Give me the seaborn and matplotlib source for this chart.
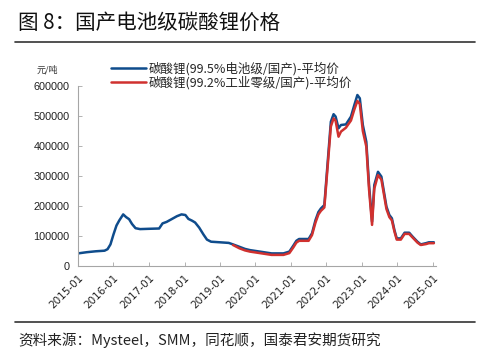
import matplotlib
matplotlib.use("Agg")
import matplotlib.pyplot as plt
from matplotlib.lines import Line2D
import pandas as pd
import seaborn as sns

# ---------------- data ----------------
battery_dates = [
    "2015-01-01", "2015-04-01", "2015-07-01", "2015-10-01", "2015-11-01", "2015-12-01",
    "2016-01-01", "2016-02-01", "2016-03-01", "2016-04-10", "2016-05-10", "2016-06-10",
    "2016-07-10", "2016-08-15", "2016-10-01", "2017-01-01", "2017-04-15", "2017-05-20",
    "2017-07-01", "2017-08-15", "2017-10-15", "2017-12-01", "2018-01-10", "2018-02-10",
    "2018-03-20", "2018-04-20", "2018-06-01", "2018-07-15", "2018-08-20", "2018-10-01",
    "2019-01-01", "2019-04-01", "2019-05-15", "2019-07-20", "2019-09-15", "2019-11-05",
    "2020-02-15", "2020-06-15", "2020-10-15", "2020-12-15", "2021-01-25", "2021-02-25",
    "2021-03-25", "2021-07-01", "2021-08-05", "2021-09-10", "2021-10-10", "2021-11-05",
    "2021-12-10", "2022-01-15", "2022-02-15", "2022-03-15", "2022-04-05", "2022-05-05",
    "2022-05-30", "2022-07-20", "2022-09-10", "2022-10-15", "2022-11-15", "2022-12-10",
    "2023-01-10", "2023-02-15", "2023-03-15", "2023-04-15", "2023-05-08", "2023-06-15",
    "2023-07-20", "2023-09-10", "2023-10-10", "2023-11-05", "2023-12-01", "2023-12-25",
    "2024-02-05", "2024-03-15", "2024-05-01", "2024-06-05", "2024-07-25", "2024-08-28",
    "2024-10-20", "2024-11-20", "2025-01-10",
]
battery_values = [
    42000, 46000, 49000, 51000, 56000, 72000,
    105000, 135000, 152000, 172000, 163000, 156000,
    140000, 126000, 123000, 124000, 125000, 142000,
    147000, 155000, 166000, 172000, 170000, 157000,
    151000, 145000, 128000, 105000, 88000, 81000,
    79000, 77000, 72000, 64000, 57000, 53000,
    48000, 42000, 42000, 48000, 68000, 84000,
    90000, 90000, 109000, 153000, 180000, 192000,
    203000, 353000, 481000, 506000, 498000, 459000,
    470000, 472000, 498000, 537000, 570000, 559000,
    470000, 414000, 270000, 148000, 270000, 314000,
    298000, 198000, 170000, 159000, 120000, 92000,
    92000, 111000, 111000, 98000, 81000, 72000,
    76000, 79000, 79000,
]

industrial_dates = [
    "2019-05-15", "2019-07-20", "2019-09-15", "2019-11-05", "2020-02-15", "2020-06-15",
    "2020-10-15", "2020-12-15", "2021-01-25", "2021-02-25", "2021-03-25", "2021-07-01",
    "2021-08-05", "2021-09-10", "2021-10-10", "2021-11-05", "2021-12-10", "2022-01-15",
    "2022-02-15", "2022-03-15", "2022-04-05", "2022-05-05", "2022-05-30", "2022-07-20",
    "2022-09-10", "2022-10-15", "2022-11-15", "2022-12-10", "2023-01-10", "2023-02-15",
    "2023-03-15", "2023-04-15", "2023-05-08", "2023-06-15", "2023-07-20", "2023-09-10",
    "2023-10-10", "2023-11-05", "2023-12-01", "2023-12-25", "2024-02-05", "2024-03-15",
    "2024-05-01", "2024-06-05", "2024-07-25", "2024-08-28", "2024-10-20", "2024-11-20",
    "2025-01-10",
]
industrial_values = [
    70000, 59000, 52000, 48000, 43000, 37000,
    37000, 43000, 62000, 78000, 84000, 84000,
    103000, 145000, 172000, 184000, 195000, 340000,
    465000, 492000, 484000, 431000, 448000, 461000,
    485000, 522000, 550000, 540000, 450000, 398000,
    255000, 137000, 258000, 303000, 288000, 190000,
    163000, 152000, 115000, 88000, 88000, 107000,
    107000, 95000, 78000, 70000, 73000, 76000,
    76000,
]

series_names = ["碳酸锂(99.5%电池级/国产)-平均价", "碳酸锂(99.2%工业零级/国产)-平均价"]
tick_years = list(range(2015, 2026))
y_ticks = [0, 100000, 200000, 300000, 400000, 500000, 600000]

title_text = "图 8：国产电池级碳酸锂价格"
unit_text = "元/吨"
source_text = "资料来源：Mysteel，SMM，同花顺，国泰君安期货研究"

# ---------------- style ----------------
sns.set_theme(style="white")
plt.rcParams["font.family"] = ["Noto Sans CJK SC", "DejaVu Sans"]
plt.rcParams["axes.unicode_minus"] = False

BLUE = "#0F4C8C"
RED = "#D0312F"

df = pd.concat([
    pd.DataFrame({"date": pd.to_datetime(battery_dates), "value": battery_values,
                  "series": series_names[0]}),
    pd.DataFrame({"date": pd.to_datetime(industrial_dates), "value": industrial_values,
                  "series": series_names[1]}),
], ignore_index=True)

fig = plt.figure(figsize=(4.82, 3.64), dpi=100)
W, H = 482, 364
ax = fig.add_axes([78 / W, 1 - 266 / H, (436 - 78) / W, (266 - 86) / H])

sns.lineplot(data=df, x="date", y="value", hue="series",
             palette={series_names[0]: BLUE, series_names[1]: RED},
             linewidth=1.8, ax=ax, legend=False, estimator=None, sort=True)

ax.set_xlim(pd.Timestamp("2015-01-01"), pd.Timestamp("2025-02-01"))
ax.set_ylim(0, 600000)
ax.set_yticks(y_ticks)
ax.set_yticklabels([str(v) for v in y_ticks], fontsize=7.8, family="Liberation Sans")
ax.set_xticks([pd.Timestamp(f"{y}-01-01") for y in tick_years])
ax.set_xticklabels([f"{y}-01" for y in tick_years], rotation=45, ha="right",
                   rotation_mode="anchor", fontsize=7.5, family="DejaVu Sans")
ax.set_xlabel("")
ax.set_ylabel("")
ax.grid(False)
for s in ["top", "right"]:
    ax.spines[s].set_visible(False)
for s in ["left", "bottom"]:
    ax.spines[s].set_color("#A6A6A6")
    ax.spines[s].set_linewidth(0.8)
ax.tick_params(axis="both", direction="in", length=3, width=0.6, color="#A6A6A6",
               labelcolor="#222222")
ax.tick_params(axis="y", pad=6, left=True)
ax.tick_params(axis="x", pad=5, bottom=True)

handles = [Line2D([], [], color=BLUE, lw=1.8), Line2D([], [], color=RED, lw=1.8)]
fig.legend(handles, series_names, loc="upper left",
           bbox_to_anchor=(111 / W, 1 - 62 / H), frameon=False,
           fontsize=9, handlelength=2.8, handletextpad=0.2, labelspacing=0.0,
           borderpad=0, borderaxespad=0)

fig.text(47 / W, 1 - 70 / H, unit_text, fontsize=6.5, ha="center", va="center",
         color="#333333")

fig.text(18 / W, 1 - 23 / H, title_text, fontsize=14.8, ha="left", va="center",
         color="#111111")
fig.add_artist(Line2D([15 / W, 475 / W], [1 - 42 / H, 1 - 42 / H], color="#333333",
                      lw=1.2, transform=fig.transFigure))
fig.add_artist(Line2D([15 / W, 475 / W], [1 - 322 / H, 1 - 322 / H], color="#333333",
                      lw=1.2, transform=fig.transFigure))
fig.text(18 / W, 1 - 340 / H, source_text, fontsize=10.5, ha="left", va="center",
         color="#222222")

fig.savefig("out.png", dpi=100)
